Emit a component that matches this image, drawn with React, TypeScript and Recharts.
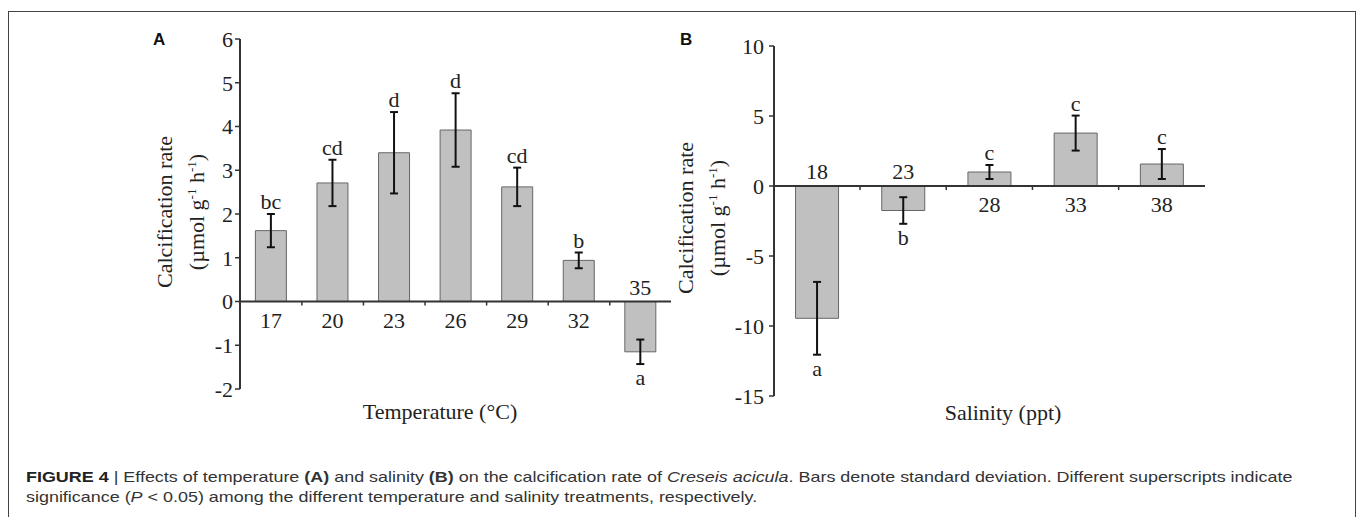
import { Bar, BarChart, ErrorBar, LabelList, ReferenceLine, XAxis, YAxis } from "recharts";

// panel A: temperature treatments
const tempCats = ['17', '20', '23', '26', '29', '32', '35']
const tempRate = [1.62, 2.71, 3.40, 3.92, 2.62, 0.94, -1.15]
const tempSd = [0.38, 0.53, 0.93, 0.84, 0.44, 0.18, 0.28]
const tempSig = ['bc', 'cd', 'd', 'd', 'cd', 'b', 'a']
const tempTicks = [-2, -1, 0, 1, 2, 3, 4, 5, 6]

// panel B: salinity treatments
const salCats = ['18', '23', '28', '33', '38']
const salRate = [-9.45, -1.75, 1.0, 3.78, 1.57]
const salSd = [2.6, 0.95, 0.5, 1.25, 1.07]
const salSig = ['a', 'b', 'c', 'c', 'c']
const salTicks = [-15, -10, -5, 0, 5, 10]

const SERIF = "'Liberation Serif', 'Times New Roman', serif"
const SANS = "'Liberation Sans', Arial, sans-serif"
const INK = '#222'

const makeCatLabel = (rates: number[], cats: string[]) => (props: any) => {
    const { x, y, width, height } = props.viewBox ?? props
    const i = props.index
    const neg = rates[i] < 0
    const zeroY = neg ? Math.min(y, y + height) : Math.max(y, y + height)
    const cx = x + width / 2
    const edge = x + width * 1.5 // bar takes half of its band
    return (
        <g>
            <text x={cx} y={neg ? zeroY - 7 : zeroY + 26} textAnchor="middle"
                fontFamily={SERIF} fontSize={22} fill={INK}>{cats[i]}</text>
            {i < cats.length - 1 && (
                <line x1={edge} x2={edge} y1={zeroY} y2={zeroY + 4} stroke="#333" strokeWidth={1.5} />
            )}
        </g>
    )
}

const makeSigLabel = (rates: number[], sds: number[], sigs: string[]) => (props: any) => {
    const { x, y, width, height } = props.viewBox ?? props
    const i = props.index
    const v = rates[i]
    const top = Math.min(y, y + height)
    const bottom = Math.max(y, y + height)
    const px = Math.abs(height) / Math.abs(v)
    const ty = v < 0 ? bottom + sds[i] * px + 21 : top - sds[i] * px - 5
    return (
        <text x={x + width / 2} y={ty} textAnchor="middle"
            fontFamily={SERIF} fontSize={22} fill={INK}>{sigs[i]}</text>
    )
}

interface PanelProps {
    cats: string[]
    rates: number[]
    sds: number[]
    sigs: string[]
    ticks: number[]
    top: number
    bottom: number
    tickMargin: number
}

const Panel = ({ cats, rates, sds, sigs, ticks, top, bottom, tickMargin }: PanelProps) => {
    const data = cats.map((cat, i) => ({ cat, rate: rates[i], sd: sds[i] }))
    return (
        <BarChart width={541} height={top + 350 + bottom} data={data}
            margin={{ top, right: 20, bottom, left: 0 }} barCategoryGap="25%">
            <XAxis dataKey="cat" hide />
            <YAxis type="number" domain={[ticks[0], ticks[ticks.length - 1]]} ticks={ticks}
                interval={0} width={90} tickSize={5} tickMargin={tickMargin}
                axisLine={{ stroke: '#333', strokeWidth: 2 }}
                tickLine={{ stroke: '#333', strokeWidth: 1.5 }}
                tick={{ fontFamily: SERIF, fontSize: 22, fill: INK }} />
            <ReferenceLine y={0} stroke="#333" strokeWidth={2} />
            <Bar dataKey="rate" fill="#c0c0c0" stroke="#666" strokeWidth={1} isAnimationActive={false}>
                <ErrorBar dataKey="sd" width={4} stroke="#111" strokeWidth={2} direction="y" />
                <LabelList dataKey="cat" content={makeCatLabel(rates, cats)} />
                <LabelList dataKey="cat" content={makeSigLabel(rates, sds, sigs)} />
            </Bar>
        </BarChart>
    )
}

const sup = { fontSize: 13, position: 'relative' as const, top: -8 }

const YTitle = ({ left, top }: { left: number, top: number }) => (
    <div style={{
        position: 'absolute', left, top, width: 220, height: 64, lineHeight: '32px',
        textAlign: 'center', transform: 'rotate(-90deg)', fontFamily: SERIF, fontSize: 22,
        color: INK, whiteSpace: 'nowrap'
    }}>
        Calcification rate<br />
        (µmol g<span style={sup}>-1</span> h<span style={sup}>-1</span>)
    </div>
)

export default function App() {
    return (
        <div style={{ position: 'fixed', left: 0, top: 0, width: 1358, height: 517, overflow: 'hidden', background: '#fff' }}>
            <div style={{ position: 'absolute', left: 8, top: 11, width: 1348, height: 530, border: '1px solid #444', boxSizing: 'border-box' }} />

            <div style={{ position: 'absolute', left: 153, top: 31, fontFamily: SANS, fontWeight: 'bold', fontSize: 17, lineHeight: '17px', color: '#111' }}>A</div>
            <div style={{ position: 'absolute', left: 680, top: 31, fontFamily: SANS, fontWeight: 'bold', fontSize: 17, lineHeight: '17px', color: '#111' }}>B</div>

            <div style={{ position: 'absolute', left: 150, top: 20 }}>
                <Panel cats={tempCats} rates={tempRate} sds={tempSd} sigs={tempSig} ticks={tempTicks}
                    top={19} bottom={40} tickMargin={2} />
            </div>
            <div style={{ position: 'absolute', left: 684, top: 20 }}>
                <Panel cats={salCats} rates={salRate} sds={salSd} sigs={salSig} ticks={salTicks}
                    top={26} bottom={30} tickMargin={5} />
            </div>

            <YTitle left={71} top={180} />
            <YTitle left={592} top={186} />

            <div style={{ position: 'absolute', left: 290, top: 400, width: 300, lineHeight: '24px', textAlign: 'center', fontFamily: SERIF, fontSize: 22, color: INK }}>
                Temperature (°C)
            </div>
            <div style={{ position: 'absolute', left: 853, top: 401, width: 300, lineHeight: '24px', textAlign: 'center', fontFamily: SERIF, fontSize: 22, color: INK }}>
                Salinity (ppt)
            </div>

            <div style={{
                position: 'absolute', left: 26, top: 467, fontFamily: SANS, fontSize: 15, lineHeight: '20px',
                color: '#333', whiteSpace: 'nowrap', transform: 'scaleX(1.195)', transformOrigin: 'left top'
            }}>
                <b style={{ color: '#222' }}>FIGURE 4</b> <span style={{ color: '#333' }}>|</span> Effects of temperature <b>(A)</b> and salinity <b>(B)</b> on the calcification rate of <i>Creseis acicula</i>. Bars denote standard deviation. Different superscripts indicate<br />
                significance (<i>P</i> &lt; 0.05) among the different temperature and salinity treatments, respectively.
            </div>
        </div>
    )
}
